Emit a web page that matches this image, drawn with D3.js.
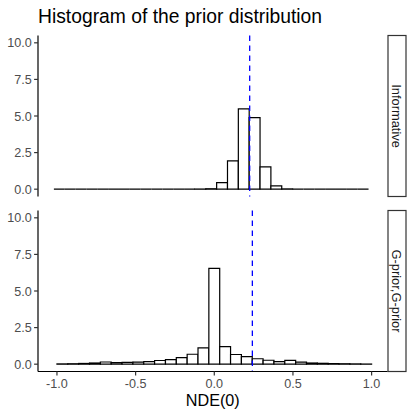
<!DOCTYPE html>
<html lang="en">
<head>
  <meta charset="UTF-8">
  <title>Histogram of the prior distribution</title>
  <script src="https://d3js.org/d3.v7.min.js"></script>
  <style>
    body { margin: 0; background: white; font-family: "Liberation Sans", Arial, sans-serif; }
    svg { display: block; }
    .bar { fill: white; stroke: black; stroke-width: 1.2px; }
    .axis-line { stroke: black; stroke-width: 1.2px; }
    .tick-mark { stroke: #333333; stroke-width: 1.2px; }
    .tick-label { fill: #4d4d4d; font-size: 12.6px; }
    .strip rect { fill: white; stroke: #333333; stroke-width: 1.2px; }
    .strip text { fill: #1a1a1a; font-size: 12.9px; }
  </style>
</head>
<body>
  <svg width="410" height="410"></svg>

  <script>
    // facets, top to bottom
    const facets = ["Informative", "G-prior,G-prior"];

    // histogram bins: 29 bins each, width 2/29
    const binWidth = 2 / 29;
    const binStart = [-1.0195, -1.0];

    // densities per bin (left to right)
    const informativeDensity = [
      0, 0, 0, 0, 0, 0, 0, 0, 0, 0, 0, 0, 0, 0.01, 0.03,
      0.45, 1.93, 5.49, 4.89, 1.52, 0.23,
      0.02, 0, 0, 0, 0, 0, 0, 0
    ];
    const gpriorDensity = [
      0.02, 0.03, 0.05, 0.08, 0.15, 0.10, 0.12, 0.14, 0.18, 0.25,
      0.31, 0.45, 0.68, 1.12, 6.55, 1.20, 0.66, 0.52, 0.37, 0.27,
      0.18, 0.26, 0.14, 0.08, 0.06, 0.04, 0.03, 0.02, 0.01
    ];
    const densities = [informativeDensity, gpriorDensity];

    // dashed reference lines per facet
    const vlines = [0.225, 0.242];

    const xTicks = [-1, -0.5, 0, 0.5, 1];
    const yTicks = [0, 2.5, 5, 7.5, 10];

    const fmt = t => t.toFixed(1);   // plain hyphen for negatives, like ggplot

    const svg = d3.select("svg");
    const panelLeft = 38, panelRight = 387.5;
    const panels = [{top: 35.5, bottom: 196.5}, {top: 210.5, bottom: 371.5}];
    const stripLeft = 388, stripRight = 406;

    const x = d3.scaleLinear().domain([-1.1205, 1.101]).range([panelLeft, panelRight]);

    svg.append("text")
      .attr("x", 38).attr("y", 22.8)
      .attr("font-size", "19.3px")
      .attr("fill", "black")
      .text("Histogram of the prior distribution");

    panels.forEach((p, i) => {
      const y = d3.scaleLinear().domain([-0.5, 10.5]).range([p.bottom, p.top]);
      const g = svg.append("g");

      const bins = densities[i].map((d, k) => ({
        x0: binStart[i] + k * binWidth,
        x1: binStart[i] + (k + 1) * binWidth,
        h: d
      }));

      g.selectAll(".bar")
        .data(bins)
        .enter().append("path")
        .attr("class", "bar")
        .attr("d", b => `M${x(b.x0)},${y(0)}V${y(b.h)}H${x(b.x1)}V${y(0)}Z`);

      g.append("line")
        .attr("x1", x(vlines[i])).attr("x2", x(vlines[i]))
        .attr("y1", p.top).attr("y2", p.bottom)
        .attr("stroke", "#0000ff")
        .attr("stroke-width", 1.3)
        .attr("stroke-dasharray", "5.5,4.5");

      // y axis
      g.append("line").attr("class", "axis-line")
        .attr("x1", panelLeft).attr("x2", panelLeft)
        .attr("y1", p.top).attr("y2", p.bottom);
      yTicks.forEach(t => {
        g.append("line").attr("class", "tick-mark")
          .attr("x1", panelLeft - 3.9).attr("x2", panelLeft)
          .attr("y1", y(t)).attr("y2", y(t));
        g.append("text").attr("class", "tick-label")
          .attr("x", panelLeft - 6.2).attr("y", y(t))
          .attr("dy", "0.36em")
          .attr("text-anchor", "end")
          .text(fmt(t));
      });

      // strip
      const strip = g.append("g").attr("class", "strip");
      strip.append("rect")
        .attr("x", stripLeft).attr("y", p.top)
        .attr("width", stripRight - stripLeft).attr("height", p.bottom - p.top);
      const cx = (stripLeft + stripRight) / 2, cy = (p.top + p.bottom) / 2;
      strip.append("text")
        .attr("transform", `translate(${cx},${cy}) rotate(90)`)
        .attr("text-anchor", "middle")
        .attr("dy", "0.35em")
        .text(facets[i]);

      // x axis only on the bottom panel
      if (i === panels.length - 1) {
        g.append("line").attr("class", "axis-line")
          .attr("x1", panelLeft).attr("x2", panelRight)
          .attr("y1", p.bottom).attr("y2", p.bottom);
        xTicks.forEach(t => {
          g.append("line").attr("class", "tick-mark")
            .attr("x1", x(t)).attr("x2", x(t))
            .attr("y1", p.bottom).attr("y2", p.bottom + 3.9);
          g.append("text").attr("class", "tick-label")
            .attr("x", x(t)).attr("y", p.bottom + 16.3)
            .attr("text-anchor", "middle")
            .text(fmt(t));
        });
      }
    });

    svg.append("text")
      .attr("x", (panelLeft + panelRight) / 2).attr("y", 406)
      .attr("text-anchor", "middle")
      .attr("font-size", "16.2px")
      .attr("fill", "black")
      .text("NDE(0)");
  </script>
</body>
</html>
